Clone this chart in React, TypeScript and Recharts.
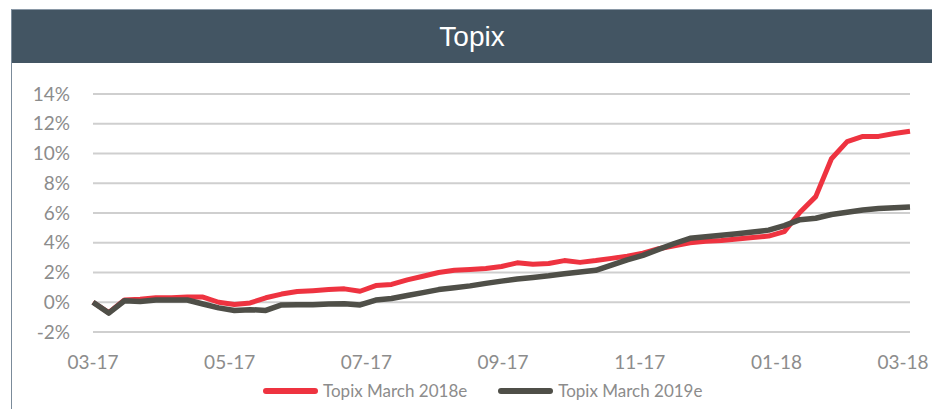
import { LineChart, Line, XAxis, YAxis, CartesianGrid } from 'recharts';

// weekly observations, Mar 2017 -> Mar 2018 (% change)
const topix2018e = [
  0, -0.7, 0.15, 0.2, 0.3, 0.3, 0.35, 0.35, 0.0, -0.15, -0.05, 0.3, 0.55, 0.72,
  0.78, 0.85, 0.9, 0.74, 1.12, 1.2, 1.5, 1.75, 2.0, 2.15, 2.2, 2.27, 2.4, 2.65,
  2.55, 2.6, 2.8, 2.68, 2.8, 2.95, 3.1, 3.3, 3.6, 3.8, 4.0, 4.1, 4.15, 4.25,
  4.35, 4.45, 4.75, 6.05, 7.1, 9.65, 10.8, 11.15, 11.15, 11.35, 11.5,
];

const topix2019e = [
  0, -0.73, 0.1, 0.05, 0.15, 0.15, 0.15, -0.12, -0.38, -0.55, -0.5, -0.55, -0.18,
  -0.17, -0.17, -0.12, -0.1, -0.18, 0.15, 0.25, 0.45, 0.65, 0.85, 0.97, 1.1, 1.27,
  1.42, 1.56, 1.67, 1.78, 1.92, 2.04, 2.15, 2.5, 2.85, 3.15, 3.55, 3.95, 4.3, 4.4,
  4.5, 4.6, 4.72, 4.85, 5.15, 5.55, 5.65, 5.9, 6.05, 6.2, 6.3, 6.35, 6.4,
];

const seriesNames = ['Topix March 2018e', 'Topix March 2019e'];
const tickWeeks = [0, 8.7, 17.4, 26.1, 34.8, 43.5, 52];
const tickLabels = ['03-17', '05-17', '07-17', '09-17', '11-17', '01-18', '03-18'];
const yTicks = [-2, 0, 2, 4, 6, 8, 10, 12, 14];

const RED = '#ee3340';
const DARK = '#4f4f48';
const AXIS_TEXT = '#8c8c8c';
const FONT = 'Lato, "Open Sans", sans-serif';

const data = topix2018e.map((v, i) => ({
  week: i,
  a: v,
  b: topix2019e[i],
}));

function XTick(props: any) {
  const { x, y, payload, index } = props;
  const last = index === tickWeeks.length - 1;
  return (
    <text x={x} y={y} dy="0.71em" dx={last ? -7 : 0} textAnchor="middle" fill={AXIS_TEXT} fontSize={19} fontFamily={FONT}>
      {tickLabels[tickWeeks.indexOf(payload.value)] ?? ''}
    </text>
  );
}

export default function App() {
  return (
    <div style={{ position: 'absolute', left: 0, top: 0, width: 932, height: 409, background: '#fff', overflow: 'hidden' }}>
      <div style={{ position: 'absolute', left: 11, top: 9, width: 940, height: 420, borderLeft: '1px solid #7b8b9a', borderTop: '1px solid #8a98a6' }} />
      <div
        style={{
          position: 'absolute', left: 12, top: 10, width: 920, height: 53, background: '#435563',
          color: '#fff', fontFamily: '"Liberation Sans Narrow", "Liberation Sans", Arial, sans-serif',
          fontSize: 28, lineHeight: '53px', textAlign: 'center',
        }}
      >
        Topix
      </div>

      <div style={{ position: 'absolute', left: 0, top: 0 }}>
        <LineChart width={932} height={409} data={data} margin={{ top: 94, right: 22, bottom: 47, left: 33 }}>
          <CartesianGrid vertical={false} stroke="#cfcfcf" strokeWidth={2} />
          <XAxis
            dataKey="week"
            type="number"
            domain={[0, 52]}
            ticks={tickWeeks}
            axisLine={false}
            tickLine={false}
            tickSize={0}
            tickMargin={24}
            interval={0}
            height={30}
            tick={<XTick />}
          />
          <YAxis
            width={60}
            domain={[-2, 14]}
            ticks={yTicks}
            tickFormatter={(v: number) => `${v}%`}
            axisLine={false}
            tickLine={false}
            tickSize={0}
            tickMargin={23}
            interval={0}
            tick={{ fill: AXIS_TEXT, fontSize: 19, fontFamily: FONT }}
          />
          <Line dataKey="a" name={seriesNames[0]} stroke={RED} strokeWidth={5} dot={false} strokeLinejoin="round" isAnimationActive={false} />
          <Line dataKey="b" name={seriesNames[1]} stroke={DARK} strokeWidth={5.5} dot={false} strokeLinejoin="round" isAnimationActive={false} />
        </LineChart>
      </div>

      <div style={{ position: 'absolute', top: 380, left: 263, display: 'flex', alignItems: 'center', fontFamily: FONT, fontSize: 17, color: AXIS_TEXT }}>
        <span style={{ display: 'inline-block', width: 55, height: 6, borderRadius: 3, background: RED, marginRight: 5 }} />
        <span style={{ marginRight: 31 }}>{seriesNames[0]}</span>
        <span style={{ display: 'inline-block', width: 55, height: 6, borderRadius: 3, background: DARK, marginRight: 5 }} />
        <span>{seriesNames[1]}</span>
      </div>
    </div>
  );
}
